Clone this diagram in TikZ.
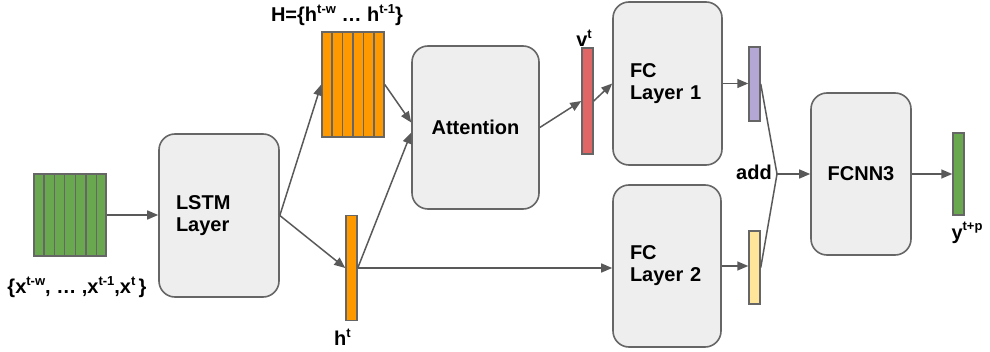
\documentclass[tikz,border=0pt]{standalone}
\usepackage{fontspec}
\setmainfont{Liberation Sans}
\usetikzlibrary{arrows.meta,calc}

\definecolor{boxfill}{HTML}{EEEEEE}
\definecolor{edgegray}{HTML}{666666}
\definecolor{arrgray}{HTML}{595959}
\definecolor{ingreen}{HTML}{6AA84F}
\definecolor{horange}{HTML}{FF9900}
\definecolor{vred}{HTML}{E06666}
\definecolor{fcpurple}{HTML}{B4A7D6}
\definecolor{fcyellow}{HTML}{FFE599}

\newcommand{\supr}[1]{\raisebox{0.42em}{\fontsize{13}{13}\selectfont #1}}

\tikzset{
  box/.style={draw=edgegray, line width=1.6pt, fill=boxfill, rounded corners=16pt, inner sep=0pt},
  leftbox/.style={box, align=left, inner xsep=17pt},
  blk/.style={draw=edgegray, line width=1.5pt, inner sep=0pt},
  lbl/.style={inner sep=0pt},
  arr/.style={draw=arrgray, line width=1.5pt, -{Triangle[length=11pt,width=9pt]}},
  ln/.style={draw=arrgray, line width=1.5pt}
}

\begin{document}
\begin{tikzpicture}[x=1pt,y=-1pt,font=\bfseries\fontsize{20}{22}\selectfont]
  \useasboundingbox (0,0) rectangle (990,352);

  % input window
  \node[blk, fill=ingreen, minimum width=72pt, minimum height=82pt] (inblk) at (70,215) {};
  \foreach \i in {1,...,6}
    \draw[edgegray, line width=1.5pt] ($(inblk.north west)!\i/7!(inblk.north east)$) -- ($(inblk.south west)!\i/7!(inblk.south east)$);
  \node[lbl] (inlbl) at (77,287) {\{x\supr{t-w}, … ,x\supr{t-1},x\supr{t}\,\}};

  % lstm
  \node[leftbox, text width=86pt, minimum height=163pt] (lstm) at (219,215.5) {LSTM\\Layer};

  % hidden states
  \node[blk, fill=horange, minimum width=62pt, minimum height=105pt] (hblk) at (353,84.5) {};
  \foreach \i in {1,...,5}
    \draw[edgegray, line width=1.5pt] ($(hblk.north west)!\i/6!(hblk.north east)$) -- ($(hblk.south west)!\i/6!(hblk.south east)$);
  \node[lbl] (hlbl) at (337,15) {H=\{h\supr{t-w} … h\supr{t-1}\}};

  \node[blk, fill=horange, minimum width=11pt, minimum height=105pt] (hbar) at (351.5,268) {};
  \node[lbl] (htlbl) at (342.5,337) {h\supr{t}};

  % attention
  \node[box, minimum width=127pt, minimum height=163pt] (att) at (475.5,127.5) {Attention};
  \node[blk, fill=vred, minimum width=11pt, minimum height=106pt] (vbar) at (587.5,101) {};
  \node[lbl] (vlbl) at (584,38) {v\supr{t}};

  % fc layers
  \node[leftbox, text width=75pt, minimum height=163pt] (fc1) at (667.5,83.5) {FC\\Layer 1};
  \node[leftbox, text width=74pt, minimum height=162pt] (fc2) at (667,266) {FC\\Layer 2};
  \node[blk, fill=fcpurple, minimum width=11pt, minimum height=74pt] (pbar) at (754.5,84) {};
  \node[blk, fill=fcyellow, minimum width=11pt, minimum height=73pt] (ybar) at (754.5,267.5) {};
  \node[lbl] (addlbl) at (754,172) {add};
  \coordinate (merge) at (777,174);

  % output
  \node[box, minimum width=100pt, minimum height=162pt] (fcnn) at (861,174) {FCNN3};
  \node[blk, fill=ingreen, minimum width=11pt, minimum height=82pt] (obar) at (958.5,174) {};
  \node[lbl] (olbl) at (967,233) {y\supr{t+p}};

  % connectors
  \draw[arr] (inblk.east) -- (inblk.east -| lstm.west);
  \draw[arr] (lstm.east) -- (hblk.west);
  \draw[arr] (lstm.east) -- (hbar.west);
  \draw[arr] (hblk.east) -- ([yshift=5pt]att.west);
  \draw[arr] (hbar.east) -- ([yshift=-5pt]att.west);
  \draw[arr] (hbar.east) -- (hbar.east -| fc2.west);
  \draw[arr] (att.east) -- (vbar.west);
  \draw[arr] (vbar.east) -- (fc1.west);
  \draw[arr] (fc1.east) -- (fc1.east -| pbar.west);
  \draw[arr] (fc2.east) -- (fc2.east -| ybar.west);
  \draw[ln] (pbar.east) -- (merge) -- (ybar.east);
  \draw[arr] (merge) -- (merge -| fcnn.west);
  \draw[arr] (fcnn.east) -- (obar.west);
\end{tikzpicture}
\end{document}
